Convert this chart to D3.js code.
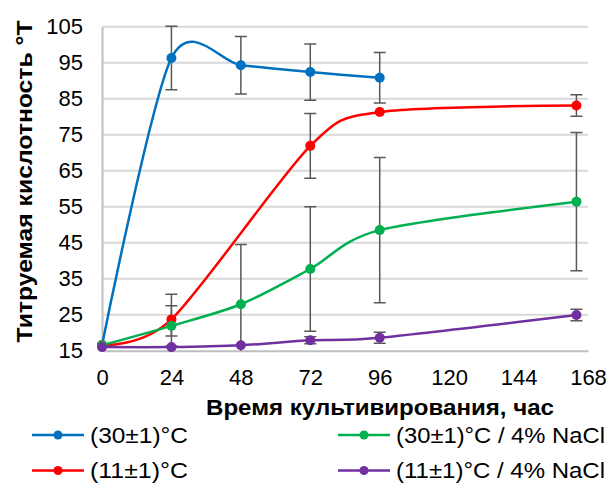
<!DOCTYPE html>
<html>
<head>
<meta charset="utf-8">
<script src="https://cdn.jsdelivr.net/npm/d3@7"></script>
<style>
  html, body { margin: 0; padding: 0; background: #fff; }
  svg { display: block; font-family: "Liberation Sans", Arial, sans-serif; }
</style>
</head>
<body>
<svg id="chart" width="613" height="484"></svg>
<script>
// Cultivation time, hours (x values of measurements)
const hours = [0, 24, 48, 72, 96, 164];
const xTicks = [0, 24, 48, 72, 96, 120, 144, 168];
const yTicks = [15, 25, 35, 45, 55, 65, 75, 85, 95, 105];

// Titratable acidity (°T) per series; null = not measured
const warm       = [16.5, 96.3, 94.3, 92.4, 90.8, null];
const cold       = [16.6, 23.7, null, 71.9, 81.3, 83.1];
const warmSalt   = [16.5, 21.9, 27.9, 37.7, 48.5, 56.4];
const coldSalt   = [16.0, 16.0, 16.5, 17.9, 18.6, 24.9];

// Error bar extents (upper, lower deviation)
const warmErrUp   = [0, 8.8, 8.0, 7.8, 7.0, 0];
const warmErrDn   = [0, 8.8, 8.0, 7.8, 7.0, 0];
const coldErrUp   = [0, 7.0, 0, 9.0, 0, 3.0];
const coldErrDn   = [0, 4.6, 0, 9.0, 0, 3.0];
const warmSaltErrUp = [0, 5.6, 16.6, 17.3, 20.2, 19.2];
const warmSaltErrDn = [0, 5.6, 16.6, 17.3, 20.2, 19.2];
const coldSaltErrUp = [0, 0, 0, 1.0, 1.5, 1.6];
const coldSaltErrDn = [0, 0, 0, 1.0, 1.5, 1.6];

const seriesNames = ["(30±1)°C", "(11±1)°C", "(30±1)°C / 4% NaCl", "(11±1)°C / 4% NaCl"];
const seriesColors = ["#0070c0", "#ff0000", "#00b050", "#7030a0"];

const series = [
  { name: seriesNames[0], color: seriesColors[0], values: warm,     up: warmErrUp,     dn: warmErrDn },
  { name: seriesNames[1], color: seriesColors[1], values: cold,     up: coldErrUp,     dn: coldErrDn },
  { name: seriesNames[2], color: seriesColors[2], values: warmSalt, up: warmSaltErrUp, dn: warmSaltErrDn },
  { name: seriesNames[3], color: seriesColors[3], values: coldSalt, up: coldSaltErrUp, dn: coldSaltErrDn }
];

const svg = d3.select("#chart");
const plot = { left: 102, right: 588, top: 26.7, bottom: 350.7 };

const x = d3.scaleLinear().domain([0, 168]).range([plot.left, plot.right]);
const y = d3.scaleLinear().domain([15, 105]).range([plot.bottom, plot.top]);

svg.append("defs").append("clipPath").attr("id", "plotClip")
  .append("rect")
  .attr("x", plot.left - 8).attr("y", plot.top - 8)
  .attr("width", plot.right - plot.left + 16)
  .attr("height", plot.bottom - plot.top + 8);

// Horizontal gridlines
svg.append("g")
  .selectAll("line")
  .data(yTicks.filter(d => d !== 15))
  .join("line")
  .attr("x1", plot.left).attr("x2", plot.right)
  .attr("y1", d => y(d)).attr("y2", d => y(d))
  .attr("stroke", "#d9d9d9").attr("stroke-width", 2);

// Axes
const yAxis = svg.append("g")
  .attr("transform", `translate(${plot.left},0)`)
  .call(d3.axisLeft(y).tickValues(yTicks).tickSize(0).tickPadding(19));
yAxis.select(".domain").attr("stroke", "#bfbfbf").attr("stroke-width", 2);
yAxis.selectAll("text")
  .attr("font-size", "22px").attr("fill", "#000")
  .attr("font-family", "Liberation Sans, Arial, sans-serif");

const xAxis = svg.append("g")
  .attr("transform", `translate(0,${plot.bottom})`)
  .call(d3.axisBottom(x).tickValues(xTicks).tickSize(0).tickPadding(19));
xAxis.select(".domain").attr("stroke", "#bfbfbf").attr("stroke-width", 2);
xAxis.selectAll("text")
  .attr("font-size", "22px").attr("fill", "#000")
  .attr("font-family", "Liberation Sans, Arial, sans-serif");

// Axis titles
svg.append("text")
  .attr("x", 380).attr("y", 415)
  .attr("text-anchor", "middle")
  .attr("font-size", "21.5px").attr("font-weight", "bold")
  .attr("textLength", 348).attr("lengthAdjust", "spacingAndGlyphs")
  .text("Время культивирования, час");

svg.append("text")
  .attr("transform", "translate(32,181.5) rotate(-90)")
  .attr("text-anchor", "middle")
  .attr("font-size", "21.5px").attr("font-weight", "bold")
  .attr("textLength", 322).attr("lengthAdjust", "spacingAndGlyphs")
  .text("Титруемая кислотность °Т");

// Error bars
const errG = svg.append("g").attr("clip-path", "url(#plotClip)");
series.forEach(s => {
  hours.forEach((h, i) => {
    const v = s.values[i];
    if (v == null || (s.up[i] === 0 && s.dn[i] === 0)) return;
    const g = errG.append("g").attr("stroke", "#595959").attr("stroke-width", 1.5);
    const cx = x(h), yTop = y(v + s.up[i]), yBot = y(v - s.dn[i]);
    g.append("line").attr("x1", cx).attr("x2", cx).attr("y1", yTop).attr("y2", yBot);
    g.append("line").attr("x1", cx - 6).attr("x2", cx + 6).attr("y1", yTop).attr("y2", yTop);
    g.append("line").attr("x1", cx - 6).attr("x2", cx + 6).attr("y1", yBot).attr("y2", yBot);
  });
});

// Smoothed series lines and markers
const line = d3.line()
  .x(d => x(d.h)).y(d => y(d.v))
  .curve(d3.curveCardinal.tension(0.15));

series.forEach(s => {
  const pts = hours.map((h, i) => ({ h, v: s.values[i] })).filter(d => d.v != null);
  svg.append("path")
    .datum(pts)
    .attr("d", line)
    .attr("fill", "none")
    .attr("stroke", s.color)
    .attr("stroke-width", 2.5);
  svg.append("g")
    .selectAll("circle")
    .data(pts)
    .join("circle")
    .attr("cx", d => x(d.h)).attr("cy", d => y(d.v))
    .attr("r", 5)
    .attr("fill", s.color);
});

// Legend (two columns, two rows)
const legendPos = [
  { x: 32, y: 435, w: 98 }, { x: 32, y: 470.5, w: 98 },
  { x: 338, y: 435, w: 209 }, { x: 338, y: 470.5, w: 209 }
];
const legend = svg.append("g");
series.forEach((s, i) => {
  const p = legendPos[i];
  const g = legend.append("g").attr("transform", `translate(${p.x},${p.y})`);
  g.append("line").attr("x1", 0).attr("x2", 52).attr("y1", 0).attr("y2", 0)
    .attr("stroke", s.color).attr("stroke-width", 2.5);
  g.append("circle").attr("cx", 26).attr("cy", 0).attr("r", 4.5).attr("fill", s.color);
  g.append("text").attr("x", 58).attr("y", 0).attr("dy", "0.35em")
    .attr("font-size", "21.5px").attr("fill", "#000")
    .attr("textLength", p.w).attr("lengthAdjust", "spacingAndGlyphs")
    .text(s.name);
});
</script>
</body>
</html>
